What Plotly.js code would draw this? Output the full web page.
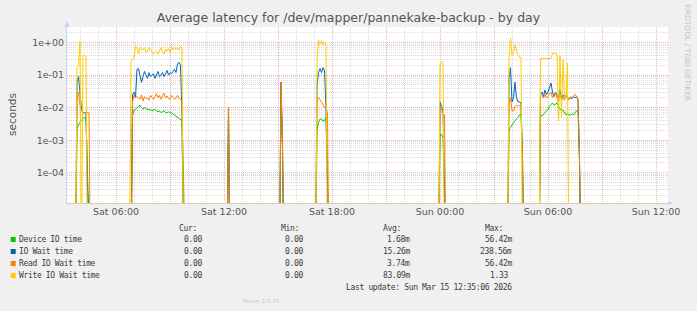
<!DOCTYPE html>
<html>
<head>
<meta charset="utf-8">
<script src="https://cdn.plot.ly/plotly-3.0.1.min.js"></script>
<style>
html,body{margin:0;padding:0;background:#F0F0F0;}
#chart{width:697px;height:311px;}
text.annotation-text[style*="Mono"]{letter-spacing:-0.34px;}
</style>
</head>
<body>
<div id="chart"></div>
<script>
// ---- data (5-minute samples; 0 = no latency recorded) ----
const times = [
 "2026-03-14 03:45","2026-03-14 03:50","2026-03-14 03:55","2026-03-14 04:00","2026-03-14 04:05","2026-03-14 04:10","2026-03-14 04:15","2026-03-14 04:20","2026-03-14 04:25","2026-03-14 04:30","2026-03-14 04:35",
 "2026-03-14 06:45","2026-03-14 06:50","2026-03-14 06:55","2026-03-14 07:00","2026-03-14 07:05","2026-03-14 07:10","2026-03-14 07:15","2026-03-14 07:20","2026-03-14 07:25","2026-03-14 07:30","2026-03-14 07:35","2026-03-14 07:40","2026-03-14 07:45","2026-03-14 07:50","2026-03-14 07:55","2026-03-14 08:00","2026-03-14 08:05","2026-03-14 08:10","2026-03-14 08:15","2026-03-14 08:20","2026-03-14 08:25","2026-03-14 08:30","2026-03-14 08:35","2026-03-14 08:40","2026-03-14 08:45","2026-03-14 08:50","2026-03-14 08:55","2026-03-14 09:00","2026-03-14 09:05","2026-03-14 09:10","2026-03-14 09:15","2026-03-14 09:20","2026-03-14 09:25","2026-03-14 09:30","2026-03-14 09:35","2026-03-14 09:40","2026-03-14 09:45","2026-03-14 09:50",
 "2026-03-14 12:10","2026-03-14 12:15","2026-03-14 12:20",
 "2026-03-14 15:05","2026-03-14 15:10","2026-03-14 15:15","2026-03-14 15:20",
 "2026-03-14 17:05","2026-03-14 17:10","2026-03-14 17:15","2026-03-14 17:20","2026-03-14 17:25","2026-03-14 17:30","2026-03-14 17:35","2026-03-14 17:40","2026-03-14 17:45","2026-03-14 17:50",
 "2026-03-14 23:55","2026-03-15 00:00","2026-03-15 00:05","2026-03-15 00:10","2026-03-15 00:15","2026-03-15 00:20",
 "2026-03-15 03:45","2026-03-15 03:50","2026-03-15 03:55","2026-03-15 04:00","2026-03-15 04:05","2026-03-15 04:10","2026-03-15 04:15","2026-03-15 04:20","2026-03-15 04:25","2026-03-15 04:30","2026-03-15 04:35","2026-03-15 04:40",
 "2026-03-15 05:30","2026-03-15 05:35","2026-03-15 05:40","2026-03-15 05:45","2026-03-15 05:50","2026-03-15 05:55","2026-03-15 06:00","2026-03-15 06:05","2026-03-15 06:10","2026-03-15 06:15","2026-03-15 06:20","2026-03-15 06:25","2026-03-15 06:30","2026-03-15 06:35","2026-03-15 06:40","2026-03-15 06:45","2026-03-15 06:50","2026-03-15 06:55","2026-03-15 07:00","2026-03-15 07:05","2026-03-15 07:10","2026-03-15 07:15","2026-03-15 07:20","2026-03-15 07:25","2026-03-15 07:30","2026-03-15 07:35","2026-03-15 07:40","2026-03-15 07:45","2026-03-15 07:50"
];
const deviceIO = [
 0,0.0022,0.003,0.0035,0.004,0.0048,0.0048,0.005,0.0001,0,0,
 0,0,0.006,0.008,0.009,0.01,0.011,0.012,0.01,0.009,0.01,0.0095,0.009,0.0085,0.009,0.008,0.0085,0.009,0.008,0.0075,0.008,0.007,0.0075,0.008,0.0072,0.007,0.0075,0.0068,0.007,0.0065,0.006,0.0055,0.005,0.0048,0.0045,0.004,0.0001,0,
 0,0.01,0,
 0,0.06,0.0006,0,
 0,0.002,0.0035,0.0045,0.0045,0.0038,0.004,0.005,0.00004,0,
 0,0.0015,0.0015,0.0012,0.00002,0,
 0,0.002,0.0025,0.003,0.0035,0.004,0.0045,0.005,0.006,0.0065,0.00018,0,
 0,0.006,0.0055,0.006,0.007,0.008,0.009,0.011,0.013,0.014,0.012,0.013,0.014,0.011,0.009,0.008,0.0085,0.007,0.006,0.0065,0.006,0.006,0.0065,0.006,0.007,0.008,0.008,0.0002,0
];
const ioWait = [
 0,0.06,0.09,0.025,0.009,0.007,0.007,0.007,0.00003,0,0,
 0,0,0.025,0.03,0.02,0.15,0.16,0.1,0.06,0.09,0.13,0.1,0.08,0.12,0.09,0.1,0.11,0.08,0.1,0.13,0.09,0.1,0.12,0.09,0.11,0.14,0.1,0.12,0.11,0.13,0.15,0.12,0.22,0.25,0.2,0.006,0,0,
 0,0.01,0,
 0,0.06,0.0006,0,
 0,0.05,0.12,0.16,0.12,0.17,0.14,0.01,0.00004,0,
 0,0.015,0.011,0.008,0.00003,0,
 0,0.08,0.17,0.015,0.02,0.06,0.02,0.015,0.015,0.014,0.0003,0,
 0,0.025,0.03,0.022,0.035,0.025,0.03,0.04,0.057,0.03,0.022,0.03,0.025,0.02,0.035,0.018,0.025,0.02,0.022,0.02,0.018,0.02,0.019,0.022,0.02,0.022,0.018,0.0003,0
];
const readIOWait = [
 0,0.015,0.03,0.012,0.008,0.007,0.007,0.007,0.007,0.007,0,
 0,0,0.015,0.025,0.02,0.022,0.02,0.018,0.025,0.016,0.022,0.019,0.02,0.017,0.024,0.02,0.018,0.022,0.027,0.02,0.024,0.018,0.022,0.028,0.02,0.023,0.019,0.018,0.024,0.021,0.018,0.02,0.024,0.02,0.018,0.016,0,0,
 0,0.01,0,
 0,0.06,0.0006,0,
 0,0.015,0.02,0.018,0.015,0.012,0.01,0.009,0.007,0,
 0,0.01,0.008,0.007,0.006,0,
 0,0.015,0.02,0.008,0.008,0.011,0.012,0.011,0.012,0.011,0.0003,0,
 0,0.025,0.022,0.02,0.025,0.02,0.022,0.025,0.03,0.02,0.025,0.028,0.02,0.015,0.025,0.018,0.02,0.017,0.025,0.02,0.018,0.022,0.02,0.023,0.026,0.022,0.016,0.0003,0
];
const writeIOWait = [
 0,0.18,0.2,1.1,0,0.4,0.4,0.38,0,0,0,
 0,0.26,0.3,0.35,0.75,0.7,0.45,0.7,0.65,0.6,0.7,0.5,0.55,0.7,0.65,0.5,0.45,0.5,0.55,0.45,0.6,0.7,0.5,0.45,0.6,0.55,0.65,0.5,0.75,0.6,0.7,0.65,0.7,0.6,0.75,0.7,0,0,
 0,0,0,
 0,0,0,0,
 0,0.3,1.2,0.9,1.15,0.85,1.0,0.8,0,0,
 0,0.2,0.25,0.25,0,0,
 0,0.3,1.35,0.42,0.5,0.85,0.55,0.4,0.35,0.35,0,0,
 0,0.32,0.32,0.32,0.32,0.32,0.33,0.33,0.33,0.47,0.48,0.47,0.45,0.004,0.4,0.005,0.3,0.02,0.02,0.23,0,0,0,0,0,0,0,0,0
];
const seriesNames = ["Device IO time","IO Wait time","Read IO Wait time","Write IO Wait time"];
const seriesColors = ["#00CC00","#0066B3","#FF8000","#FFCC00"];
const curVals = ["0.00","0.00","0.00","0.00"];
const minVals = ["0.00","0.00","0.00","0.00"];
const avgVals = ["1.68m","15.26m","3.74m","83.09m"];
const maxVals = ["56.42m","238.56m","56.42m","1.33 "];
const yTickVals = [1e-4,1e-3,1e-2,1e-1,1];
const yTickText = ["1e-04","1e-03","1e-02","1e-01","1e+00"];
const xTickVals = ["2026-03-14 06:00","2026-03-14 09:00","2026-03-14 12:00","2026-03-14 15:00","2026-03-14 18:00","2026-03-14 21:00","2026-03-15 00:00","2026-03-15 03:00","2026-03-15 06:00","2026-03-15 09:00","2026-03-15 12:00"];
const xTickText = ["Sat 06:00","","Sat 12:00","","Sat 18:00","","Sun 00:00","","Sun 06:00","","Sun 12:00"];

// ---- build ----
const FLOOR = 1e-7; // zero values drawn below the log axis floor
const allSeries = [deviceIO, ioWait, readIOWait, writeIOWait];
const traces = allSeries.map((vals, i) => ({
  type: "scatter", mode: "lines", x: times,
  y: vals.map(v => v > 0 ? v : FLOOR),
  name: seriesNames[i],
  line: {color: seriesColors[i], width: 1},
  hoverinfo: "skip", showlegend: false
}));

const L = 67, R = 668, T = 27, B = 203, W = 697, H = 311;
const px = x => (x - L) / (R - L);
const py = y => (B - y) / (B - T);

const minorY = [];
for (let e = -5; e <= 0; e++) for (let m = 2; m <= 9; m++) minorY.push(m * Math.pow(10, e));

const mono = {family: "DejaVu Sans Mono", size: 8, color: "#3c3c3c"};
const ann = [];
function txt(x, y, text, anchor, font, extra) {
  ann.push(Object.assign({xref: "paper", yref: "paper", x: px(x), y: py(y), text: text,
    xanchor: anchor, yanchor: "middle", showarrow: false, font: font,
    borderpad: 0, borderwidth: 0}, extra || {}));
}
const rowsY = [239.5, 251.5, 263.5, 275.5];
txt(197.3, 228, "Cur:", "right", mono);
txt(299, 228, "Min:", "right", mono);
txt(400.7, 228, "Avg:", "right", mono);
txt(502.7, 228, "Max:", "right", mono);
const shapes = [];
seriesNames.forEach((n, i) => {
  txt(19.3, rowsY[i], n, "left", mono);
  txt(201.7, rowsY[i], curVals[i], "right", mono);
  txt(303.3, rowsY[i], minVals[i], "right", mono);
  txt(410, rowsY[i], avgVals[i], "right", mono);
  txt(511.7, rowsY[i], maxVals[i], "right", mono);
  shapes.push({type: "rect", xref: "paper", yref: "paper",
    x0: px(10.7), x1: px(15.7), y0: py(rowsY[i] + 2.5), y1: py(rowsY[i] - 2.5),
    fillcolor: seriesColors[i], line: {width: 0}});
});
txt(511.7, 287.7, "Last update: Sun Mar 15 12:35:06 2026", "right", mono);
txt(261, 300.5, "Munin 2.0.76", "center", {family: "DejaVu Sans", size: 5.5, color: "#C8C8C8"});
txt(687, 52.5, "RRDTOOL / TOBI OETIKER", "center", {family: "DejaVu Sans", size: 7.5, color: "#C4C4C4"}, {textangle: 90});
txt(12, 115, "seconds", "center", {family: "DejaVu Sans", size: 10.5, color: "#555"}, {textangle: -90});
txt(67, 23.5, "▲", "center", {family: "DejaVu Sans", size: 7, color: "#C8D0F4"});
txt(671, 203, "►", "center", {family: "DejaVu Sans", size: 7, color: "#C8D0F4"});

const layout = {
  width: W, height: H,
  margin: {l: L, r: W - R, t: T, b: H - B, pad: 0},
  paper_bgcolor: "#F0F0F0", plot_bgcolor: "#FFFFFF",
  font: {family: "DejaVu Sans", size: 9.5, color: "#555"},
  title: {text: "Average latency for /dev/mapper/pannekake-backup - by day",
    font: {family: "DejaVu Sans", size: 12.5, color: "#555"},
    x: 0.5, xref: "container", xanchor: "center", y: 1 - 17.5 / H, yref: "container", yanchor: "middle"},
  xaxis: {type: "date", range: ["2026-03-14 03:16:40", "2026-03-15 12:40"],
    tickmode: "array", tickvals: xTickVals, ticktext: xTickText,
    showgrid: true, gridcolor: "#E6B4B4", griddash: "1px,1px", gridwidth: 1,
    ticks: "", showline: true, linecolor: "#D9CDA6", linewidth: 1, zeroline: false,
    tickfont: {family: "DejaVu Sans", size: 9.5, color: "#555"},
    minor: {dtick: 3600000, tick0: "2026-03-14 00:00", showgrid: true, gridcolor: "#DCDCDC", griddash: "1px,1px", gridwidth: 1, ticks: ""},
    fixedrange: true},
  yaxis: {type: "log", range: [-4.93, 0.48],
    tickmode: "array", tickvals: yTickVals, ticktext: yTickText,
    showgrid: true, gridcolor: "#E6B4B4", griddash: "1px,1px", gridwidth: 1,
    ticks: "", showline: true, linecolor: "#CCD0F0", linewidth: 1, zeroline: false,
    tickfont: {family: "DejaVu Sans", size: 9.5, color: "#555"},
    minor: {tickmode: "array", tickvals: minorY, showgrid: true, gridcolor: "#DCDCDC", griddash: "1px,1px", gridwidth: 1, ticks: ""},
    fixedrange: true},
  annotations: ann, shapes: shapes, showlegend: false
};
Plotly.newPlot("chart", traces, layout, {displayModeBar: false, staticPlot: true});
</script>
</body>
</html>
